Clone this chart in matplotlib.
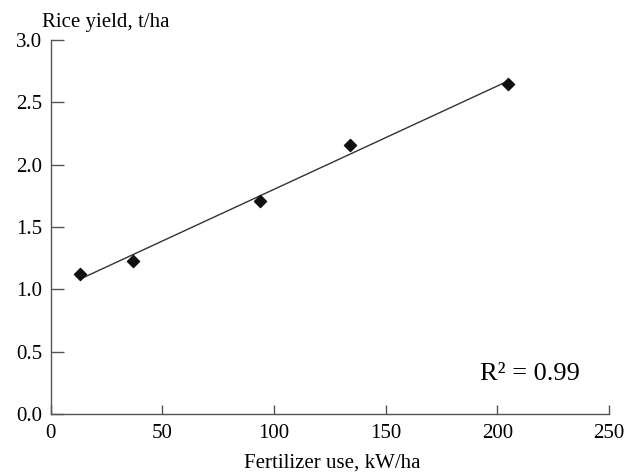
import numpy as np
import matplotlib
matplotlib.use("Agg")
import matplotlib.pyplot as plt

# fertilizer use (kW/ha) and rice yield (t/ha)
fert = [13, 37, 94, 134, 205]
yield_t = [1.12, 1.23, 1.71, 2.155, 2.65]
xticks = [0, 50, 100, 150, 200, 250]
yticks = [0.0, 0.5, 1.0, 1.5, 2.0, 2.5, 3.0]

plt.rcParams['font.family'] = ['Liberation Serif', 'DejaVu Serif']

fig = plt.figure(figsize=(6.33, 4.75), dpi=100)
ax = fig.add_axes([0.0798, 0.1284, 0.8822, 0.7876])

# linear fit
slope, icpt = np.polyfit(fert, yield_t, 1)
xs = np.array([fert[0], fert[-1]])
ax.plot(xs, slope * xs + icpt, color='#333333', lw=1.0)
ax.scatter(fert, yield_t, marker='D', s=38, color='#111111', zorder=3)

ax.set_xlim(0, 250)
ax.set_ylim(0, 3.0)
ax.set_xticks(xticks)
ax.set_yticks(yticks)
ax.set_xticklabels([str(v) for v in xticks])
ax.set_yticklabels([f"{v:.1f}" for v in yticks])

for s in ['top', 'right']:
    ax.spines[s].set_visible(False)
for s in ['left', 'bottom']:
    ax.spines[s].set_color('#555555')
    ax.spines[s].set_linewidth(1.0)

ax.tick_params(axis='y', direction='in', length=9.5, width=1.0, color='#555555',
               labelsize=15, pad=6)
ax.tick_params(axis='x', direction='in', length=6.5, width=1.0, color='#555555',
               labelsize=15, pad=7)

fig.text(0.066, 0.953, "Rice yield, t/ha", fontsize=15, ha='left', va='center')
fig.text(0.525, 0.026, "Fertilizer use, kW/ha", fontsize=15, ha='center', va='center')
ax.text(0.769, 0.107, "R² = 0.99", transform=ax.transAxes, fontsize=19,
        ha='left', va='center')

fig.savefig("out.png", dpi=100)
